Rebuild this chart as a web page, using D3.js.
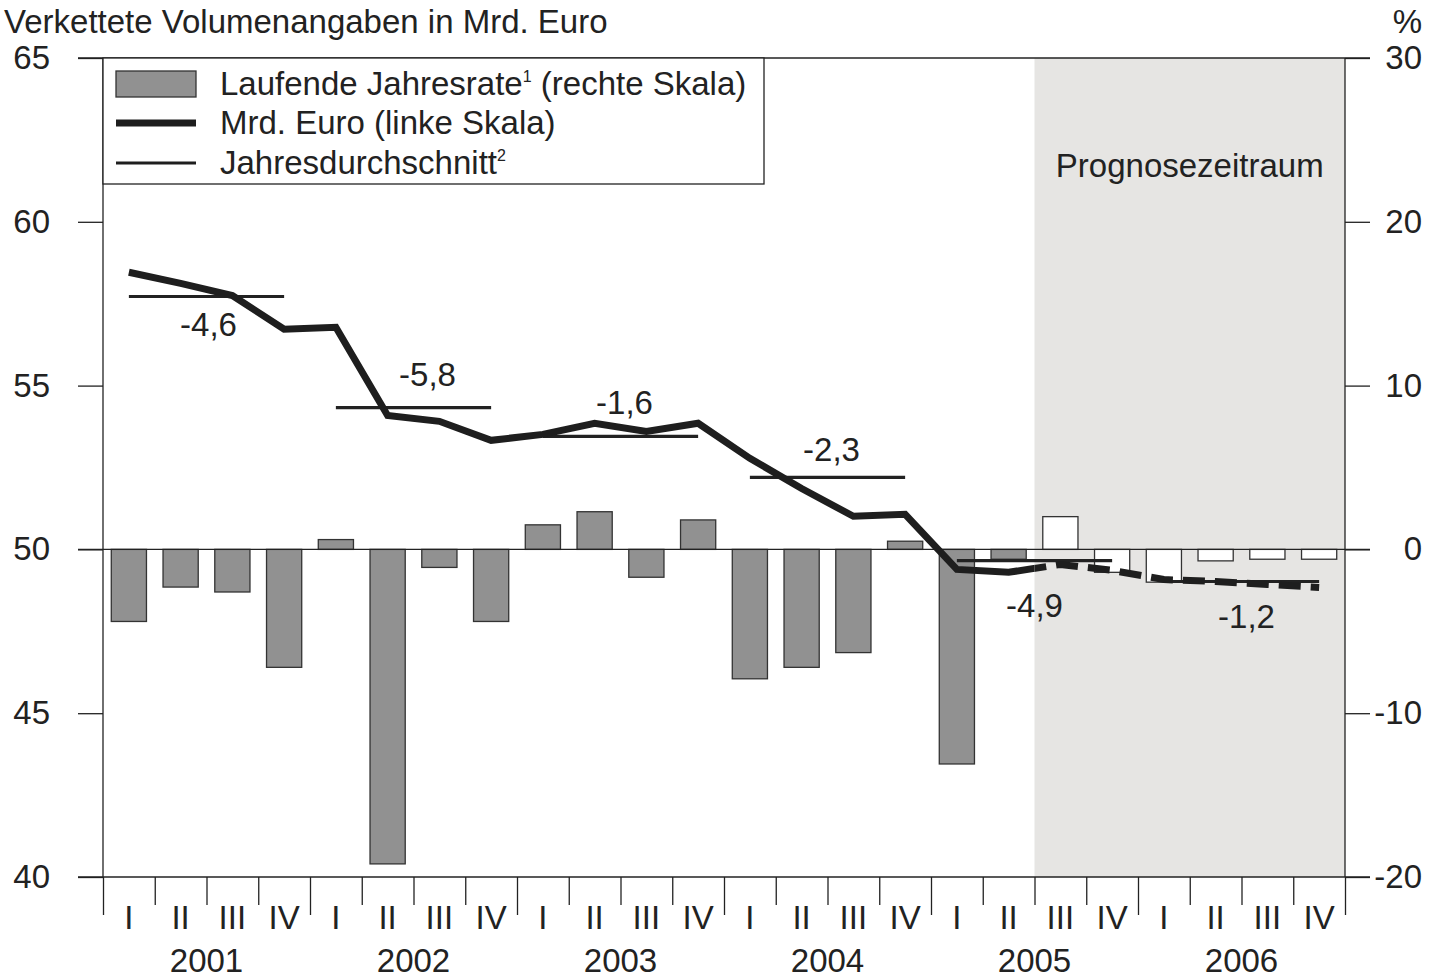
<!DOCTYPE html>
<html>
<head>
<meta charset="utf-8">
<script src="https://cdn.jsdelivr.net/npm/d3@7"></script>
<style>
  body { margin: 0; background: #fff; }
  svg text { font-family: "Liberation Sans", Arial, sans-serif; fill: #222; }
</style>
</head>
<body>
<div id="chart"></div>
<script>
// data
var years = ["2001", "2002", "2003", "2004", "2005", "2006"];
var quarterNames = ["I", "II", "III", "IV"];

// running annual rate in % (right scale)
var rate = [-4.4, -2.3, -2.6, -7.2,
            0.6, -19.2, -1.1, -4.4,
            1.5, 2.3, -1.7, 1.8,
            -7.9, -7.2, -6.3, 0.5,
            -13.1, -0.6, 2.0, -1.4,
            -2.0, -0.7, -0.6, -0.6];

// Mrd. Euro (left scale)
var level = [58.46, 58.12, 57.75, 56.72,
             56.78, 54.09, 53.91, 53.33,
             53.51, 53.85, 53.60, 53.85,
             52.78, 51.86, 51.01, 51.07,
             49.39, 49.30, 49.54, 49.36,
             49.08, 49.02, 48.93, 48.84];

// annual averages (left scale) and their growth labels
var yearAvg = [57.72, 54.33, 53.45, 52.20, 49.66, 49.02];
var yearRate = ["-4,6", "-5,8", "-1,6", "-2,3", "-4,9", "-1,2"];

var leftTicks = [40, 45, 50, 55, 60, 65];
var rightTicks = [-20, -10, 0, 10, 20, 30];

var forecastStart = 18; // 2005 Q3

// layout
var svgWidth = 1441;
var svgHeight = 978;
var margin = {top: 58, right: 96, bottom: 101, left: 103};
var chartWidth = svgWidth - margin.left - margin.right;
var chartHeight = svgHeight - margin.top - margin.bottom;
var fontSize = "33px";

// label offsets (px) for the annual-average numbers
var labelDx = [2, 14, 4, 4, 0, 5];
var labelDy = [40, -22, -22, -16, 56, 46];

var svg = d3.select("#chart").append("svg")
    .attr("width", svgWidth)
    .attr("height", svgHeight);

var chartGroup = svg.append("g")
    .attr("transform", `translate(${margin.left}, ${margin.top})`);

var n = rate.length;

// scales
var xScale = d3.scaleLinear().domain([0, n]).range([0, chartWidth]);
var yLeft = d3.scaleLinear().domain([40, 65]).range([chartHeight, 0]);
var yRight = d3.scaleLinear().domain([-20, 30]).range([chartHeight, 0]);

var step = xScale(1) - xScale(0);
var barW = step * 0.68;
var mid = i => xScale(i + 0.5);

// forecast shading
chartGroup.append("rect")
    .attr("x", xScale(forecastStart))
    .attr("y", 0)
    .attr("width", xScale(n) - xScale(forecastStart))
    .attr("height", chartHeight)
    .style("fill", "#e6e5e3");

chartGroup.append("text")
    .attr("x", (xScale(forecastStart) + xScale(n)) / 2)
    .attr("y", 119)
    .attr("text-anchor", "middle")
    .style("font-size", fontSize)
    .text("Prognosezeitraum");

// bars
chartGroup.selectAll(".bar")
    .data(rate)
    .enter()
    .append("rect")
    .attr("class", "bar")
    .attr("x", (d, i) => mid(i) - barW / 2)
    .attr("y", d => yRight(Math.max(0, d)))
    .attr("width", barW)
    .attr("height", d => Math.abs(yRight(d) - yRight(0)))
    .style("fill", (d, i) => i >= forecastStart ? "#ffffff" : "#919191")
    .style("stroke", "#333")
    .style("stroke-width", 1.3);

// axes
var leftAxis = d3.axisLeft(yLeft).tickValues(leftTicks).tickSize(25).tickPadding(28);
var rightAxis = d3.axisRight(yRight).tickValues(rightTicks).tickSize(25)
    .tickFormat(d => String(d));
var bottomAxis = d3.axisBottom(xScale).tickValues(d3.range(n + 1)).tickSize(28).tickFormat("");

var gl = chartGroup.append("g").call(leftAxis);
var gr = chartGroup.append("g").attr("transform", `translate(${chartWidth}, 0)`).call(rightAxis);
var gb = chartGroup.append("g").attr("transform", `translate(0, ${chartHeight})`).call(bottomAxis);

[gl, gr, gb].forEach(g => {
    g.select(".domain").remove();
    g.selectAll("line").style("stroke", "#222").style("stroke-width", 1.3);
    g.selectAll("text").style("font-size", fontSize).style("fill", "#222")
        .style("font-family", "'Liberation Sans', Arial, sans-serif");
});
gr.selectAll("text").attr("x", 77).attr("text-anchor", "end");
gb.selectAll("line").attr("y2", d => d % 4 === 0 ? 38 : 28);

// frame lines
var frame = chartGroup.append("g").style("stroke", "#222").style("stroke-width", 1.3);
frame.append("line").attr("x1", -25).attr("x2", chartWidth + 25).attr("y1", 0).attr("y2", 0);
frame.append("line").attr("x1", -25).attr("x2", chartWidth + 25).attr("y1", chartHeight).attr("y2", chartHeight);
frame.append("line").attr("x1", -25).attr("x2", chartWidth + 25).attr("y1", yRight(0)).attr("y2", yRight(0));
frame.append("line").attr("x1", 0).attr("x2", 0).attr("y1", 0).attr("y2", chartHeight);
frame.append("line").attr("x1", chartWidth).attr("x2", chartWidth).attr("y1", 0).attr("y2", chartHeight);

// quarter and year labels
chartGroup.selectAll(".qlabel")
    .data(rate)
    .enter()
    .append("text")
    .attr("class", "qlabel")
    .attr("x", (d, i) => mid(i))
    .attr("y", chartHeight + 52)
    .attr("text-anchor", "middle")
    .style("font-size", fontSize)
    .text((d, i) => quarterNames[i % 4]);

chartGroup.selectAll(".ylabel")
    .data(years)
    .enter()
    .append("text")
    .attr("class", "ylabel")
    .attr("x", (d, i) => xScale(i * 4 + 2))
    .attr("y", chartHeight + 95)
    .attr("text-anchor", "middle")
    .style("font-size", fontSize)
    .text(d => d);

// annual averages
chartGroup.selectAll(".avg")
    .data(yearAvg)
    .enter()
    .append("line")
    .attr("class", "avg")
    .attr("x1", (d, i) => mid(i * 4))
    .attr("x2", (d, i) => mid(i * 4 + 3))
    .attr("y1", d => yLeft(d))
    .attr("y2", d => yLeft(d))
    .style("stroke", "#222")
    .style("stroke-width", 3.2);

chartGroup.selectAll(".avglabel")
    .data(yearRate)
    .enter()
    .append("text")
    .attr("class", "avglabel")
    .attr("x", (d, i) => xScale(i * 4 + 2) + labelDx[i])
    .attr("y", (d, i) => yLeft(yearAvg[i]) + labelDy[i])
    .attr("text-anchor", "middle")
    .style("font-size", fontSize)
    .text(d => d);

// main line: solid for actual values, dashed for forecast
var defs = svg.append("defs");
defs.append("clipPath").attr("id", "clipActual").append("rect")
    .attr("x", -10).attr("y", -10)
    .attr("width", xScale(forecastStart) + 10).attr("height", chartHeight + 20);
defs.append("clipPath").attr("id", "clipForecast").append("rect")
    .attr("x", xScale(forecastStart)).attr("y", -10)
    .attr("width", chartWidth).attr("height", chartHeight + 20);

var line = d3.line()
    .x((d, i) => mid(i))
    .y(d => yLeft(d));

chartGroup.append("path")
    .datum(level)
    .attr("d", line)
    .attr("clip-path", "url(#clipActual)")
    .style("fill", "none")
    .style("stroke", "#1e1e1e")
    .style("stroke-width", 7)
    .style("stroke-linejoin", "miter");

var fcLine = d3.line()
    .x((d, i) => mid(i + forecastStart - 1))
    .y(d => yLeft(d));

chartGroup.append("path")
    .datum(level.slice(forecastStart - 1))
    .attr("d", fcLine)
    .attr("clip-path", "url(#clipForecast)")
    .style("fill", "none")
    .style("stroke", "#1e1e1e")
    .style("stroke-width", 7)
    .style("stroke-dasharray", "22,10")
    .style("stroke-dashoffset", 16);

// legend
var legend = chartGroup.append("g");
legend.append("rect")
    .attr("x", 0).attr("y", 0)
    .attr("width", 661).attr("height", 126)
    .style("fill", "#fff")
    .style("stroke", "#222")
    .style("stroke-width", 1.3);

legend.append("rect")
    .attr("x", 13).attr("y", 13)
    .attr("width", 80).attr("height", 26)
    .style("fill", "#919191")
    .style("stroke", "#333")
    .style("stroke-width", 1.3);
legend.append("line")
    .attr("x1", 13).attr("x2", 93).attr("y1", 65).attr("y2", 65)
    .style("stroke", "#1e1e1e").style("stroke-width", 7);
legend.append("line")
    .attr("x1", 13).attr("x2", 93).attr("y1", 105).attr("y2", 105)
    .style("stroke", "#1e1e1e").style("stroke-width", 3.2);

var t1 = legend.append("text").attr("x", 117).attr("y", 37).style("font-size", fontSize);
t1.append("tspan").text("Laufende Jahresrate");
t1.append("tspan").attr("dy", -13).style("font-size", "16px").text("1");
t1.append("tspan").attr("dy", 13).text(" (rechte Skala)");

legend.append("text").attr("x", 117).attr("y", 76).style("font-size", fontSize)
    .text("Mrd. Euro (linke Skala)");

var t3 = legend.append("text").attr("x", 117).attr("y", 116).style("font-size", fontSize);
t3.append("tspan").text("Jahresdurchschnitt");
t3.append("tspan").attr("dy", -13).style("font-size", "16px").text("2");

// titles
svg.append("text")
    .attr("x", 4).attr("y", 33)
    .style("font-size", fontSize)
    .text("Verkettete Volumenangaben in Mrd. Euro");

svg.append("text")
    .attr("x", 1422).attr("y", 33)
    .attr("text-anchor", "end")
    .style("font-size", fontSize)
    .text("%");
</script>
</body>
</html>
